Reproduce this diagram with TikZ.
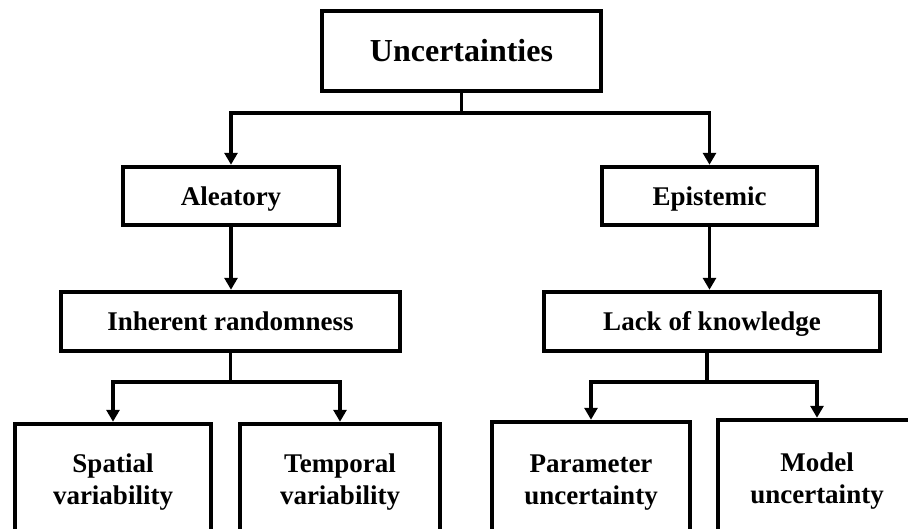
\documentclass[tikz,border=0pt]{standalone}
\usepackage{fontspec}
\setmainfont{Liberation Serif}
\usetikzlibrary{arrows.meta}
\begin{document}
\begin{tikzpicture}[x=1pt,y=-1pt,
  box/.style={draw, line width=4.5pt, fill=white, align=center, inner sep=0pt,
              font=\fontsize{27}{32}\selectfont\bfseries},
  oneline/.style={text height=18pt, text depth=0pt},
  link/.style={line width=3.5pt},
  arr/.style={link, -{Triangle[width=13pt,length=12pt]}}]
\useasboundingbox (0,0) rectangle (908,528);
\clip (0,0) rectangle (908,528);

% root
\node[box, oneline, text height=21pt, minimum width=279pt, minimum height=80pt,
      font=\fontsize{32}{38}\selectfont\bfseries] (unc) at (461.5,51) {Uncertainties};

% two kinds of uncertainty
\node[box, oneline, minimum width=216pt, minimum height=58pt] (ale) at (231,196) {Aleatory};
\node[box, oneline, minimum width=215pt, minimum height=58pt] (epi) at (709.5,196) {Epistemic};

% their sources
\node[box, oneline, minimum width=339pt, minimum height=59pt] (inh) at (230.5,321.5) {Inherent randomness};
\node[box, oneline, minimum width=336pt, minimum height=59pt] (lack) at (712,321.5) {Lack of knowledge};

% leaves (running past the lower edge)
\node[box, minimum width=196pt, minimum height=116pt] (spa) at (113,482) {Spatial\\variability};
\node[box, minimum width=200pt, minimum height=116pt] (tem) at (340,482) {Temporal\\variability};
\node[box, minimum width=198pt, minimum height=121pt] (par) at (591,482.5) {Parameter\\uncertainty};
\node[box, minimum width=198pt, minimum height=123pt] (mod) at (817,481.5) {Model\\uncertainty};

% root -> kinds
\draw[link] (unc.south) -- (unc.south |- 0,113) coordinate (j1);
\draw[arr] (j1) -| (ale.north);
\draw[arr] (j1) -| (epi.north);

% kinds -> sources
\draw[arr] (ale.south) -- (ale.south |- inh.north);
\draw[arr] (epi.south) -- (epi.south |- lack.north);

% sources -> leaves
\draw[link] (inh.south) -- (inh.south |- 0,382) coordinate (j2);
\draw[arr] (j2) -| (spa.north);
\draw[arr] (j2) -| (tem.north);
\coordinate (j3) at ([xshift=-5pt]lack.south);
\draw[link] (j3) -- (j3 |- 0,382) coordinate (j4);
\draw[arr] (j4) -| (par.north);
\draw[arr] (j4) -| (mod.north);
\end{tikzpicture}
\end{document}
